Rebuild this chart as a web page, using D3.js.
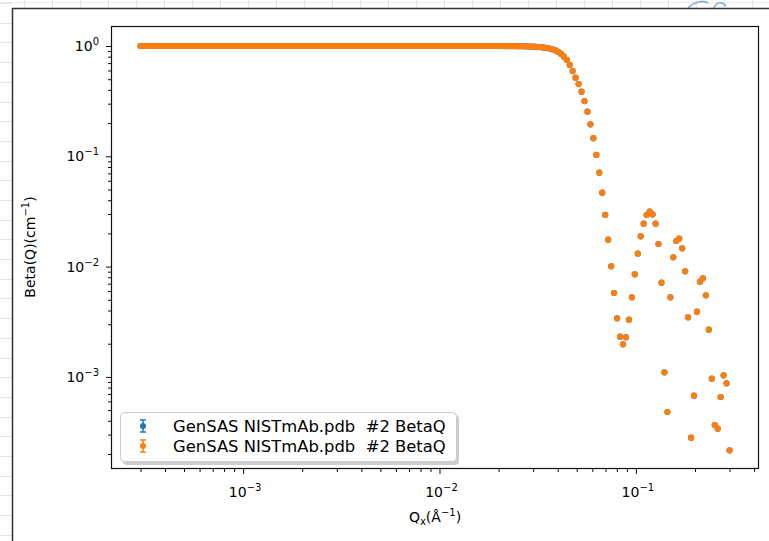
<!DOCTYPE html>
<html><head><meta charset="utf-8">
<script src="https://cdn.jsdelivr.net/npm/d3@7"></script>
<style>
body{margin:0;background:#fff}
svg{display:block}
text{font-family:"DejaVu Sans",sans-serif;fill:#000}
</style>
</head><body><svg id="c" width="769" height="541"></svg>
<script>
// Q values (Å^-1)
const qValues = [
3.000e-4,3.106e-4,3.216e-4,3.329e-4,3.447e-4,3.569e-4,3.695e-4,3.825e-4,3.960e-4,4.100e-4,
4.245e-4,4.395e-4,4.550e-4,4.711e-4,4.878e-4,5.050e-4,5.228e-4,5.413e-4,5.604e-4,5.802e-4,
6.007e-4,6.219e-4,6.439e-4,6.667e-4,6.902e-4,7.146e-4,7.398e-4,7.660e-4,7.930e-4,8.211e-4,
8.501e-4,8.801e-4,9.112e-4,9.434e-4,9.767e-4,1.011e-3,1.047e-3,1.084e-3,1.122e-3,1.162e-3,
1.203e-3,1.245e-3,1.289e-3,1.335e-3,1.382e-3,1.431e-3,1.481e-3,1.534e-3,1.588e-3,1.644e-3,
1.702e-3,1.762e-3,1.825e-3,1.889e-3,1.956e-3,2.025e-3,2.096e-3,2.170e-3,2.247e-3,2.327e-3,
2.408e-3,2.493e-3,2.581e-3,2.672e-3,2.767e-3,2.864e-3,2.966e-3,3.070e-3,3.179e-3,3.291e-3,
3.407e-3,3.528e-3,3.652e-3,3.781e-3,3.915e-3,4.053e-3,4.196e-3,4.345e-3,4.498e-3,4.657e-3,
4.821e-3,4.991e-3,5.168e-3,5.350e-3,5.539e-3,5.735e-3,5.938e-3,6.147e-3,6.365e-3,6.589e-3,
6.822e-3,7.063e-3,7.313e-3,7.571e-3,7.839e-3,8.115e-3,8.402e-3,8.699e-3,9.006e-3,9.324e-3,
9.653e-3,9.994e-3,1.035e-2,1.071e-2,1.109e-2,1.148e-2,1.189e-2,1.231e-2,1.274e-2,1.319e-2,
1.366e-2,1.414e-2,1.464e-2,1.516e-2,1.569e-2,1.625e-2,1.682e-2,1.742e-2,1.803e-2,1.867e-2,
1.933e-2,2.001e-2,2.072e-2,2.145e-2,2.221e-2,2.299e-2,2.380e-2,2.465e-2,2.552e-2,2.642e-2,
2.735e-2,2.831e-2,2.931e-2,3.035e-2,3.142e-2,3.253e-2,3.368e-2,3.487e-2,3.610e-2,3.738e-2,
3.870e-2,4.007e-2,4.148e-2,4.295e-2,4.446e-2,4.603e-2,4.766e-2,4.934e-2,5.109e-2,5.289e-2,
5.476e-2,5.669e-2,5.870e-2,6.077e-2,6.292e-2,6.514e-2,6.744e-2,6.982e-2,7.229e-2,7.484e-2,
7.749e-2,8.023e-2,8.306e-2,8.599e-2,8.903e-2,9.218e-2,9.543e-2,9.880e-2,1.023e-1,1.059e-1,
1.096e-1,1.135e-1,1.175e-1,1.217e-1,1.260e-1,1.304e-1,1.350e-1,1.398e-1,1.448e-1,1.499e-1,
1.551e-1,1.606e-1,1.663e-1,1.722e-1,1.782e-1,1.845e-1,1.911e-1,1.978e-1,2.048e-1,2.120e-1,
2.195e-1,2.273e-1,2.353e-1,2.436e-1,2.522e-1,2.611e-1,2.703e-1,2.799e-1,2.898e-1,3.000e-1
];
// Beta(Q) values (cm^-1)
const betaValues = [
1.000,1.000,1.000,1.000,1.000,1.000,1.000,1.000,1.000,1.000,
1.000,1.000,1.000,1.000,1.000,1.000,1.000,1.000,1.000,1.000,
1.000,1.000,1.000,1.000,1.000,1.000,1.000,1.000,1.000,1.000,
1.000,1.000,1.000,1.000,1.000,1.000,1.000,1.000,1.000,1.000,
1.000,1.000,1.000,1.000,1.000,1.000,1.000,1.000,1.000,1.000,
1.000,1.000,1.000,1.000,1.000,1.000,1.000,1.000,1.000,1.000,
1.000,1.000,1.000,1.000,1.000,1.000,1.000,1.000,1.000,1.000,
1.000,1.000,1.000,1.000,1.000,1.000,1.000,1.000,1.000,1.000,
1.000,1.000,1.000,1.000,1.000,1.000,1.000,1.000,1.000,1.000,
1.000,1.000,1.000,1.000,1.000,1.000,1.000,1.000,1.000,1.000,
1.000,1.000,1.000,1.000,1.000,1.000,1.000,1.000,1.000,1.000,
1.000,1.000,1.000,1.000,1.000,1.000,1.000,1.000,1.000,1.000,
1.000,1.000,1.000,0.999,0.999,0.998,0.998,0.997,0.996,0.995,
0.994,0.992,0.989,0.986,0.982,0.977,0.971,0.963,0.952,0.937,
0.917,0.889,0.852,0.805,0.747,0.673,0.593,0.516,0.452,0.385,
0.317,0.254,0.195,0.146,0.103,0.0710,0.0468,0.0294,0.01754,0.01006,
0.005764,0.003399,0.002314,0.001975,0.002286,0.003300,0.005267,0.008515,0.01309,0.01883,
0.02448,0.02936,0.03146,0.02980,0.02448,0.01602,0.007145,0.001101,0.0004806,0.005267,
0.01215,0.01706,0.01791,0.01465,0.009066,0.003470,0.0002811,0.0006756,0.003902,0.007295,
0.007831,0.005494,0.002678,0.0009632,0.0003663,0.0003392,0.0006574,0.001034,0.0008750,0.0002161
];
const seriesNames = ["GenSAS NISTmAb.pdb  #2 BetaQ", "GenSAS NISTmAb.pdb  #2 BetaQ"];
const seriesColors = ["#1f77b4", "#ff7f0e"];
const xMajorExps = [-3, -2, -1];
const yMajorExps = [0, -1, -2, -3];
const xLabelText = "Q";
const yLabelText = "Beta(Q)(cm";

const svg = d3.select("#c");
const W = 769, H = 541;
const m = {left: 111, right: 759, top: 26, bottom: 469};

// background (window decoration)
const bg = svg.append("g");
for (let y = 3; y < H; y += 19.7) {
  bg.append("line").attr("x1", 0).attr("x2", 12).attr("y1", Math.round(y)+0.5).attr("y2", Math.round(y)+0.5)
    .attr("stroke", "#e4e4e4").attr("stroke-width", 1);
}
for (let x = 24; x < W; x += 28) {
  bg.append("line").attr("x1", Math.round(x)+0.5).attr("x2", Math.round(x)+0.5).attr("y1", 0).attr("y2", 8)
    .attr("stroke", "#e4e4e4").attr("stroke-width", 1);
}
bg.append("line").attr("x1", 0).attr("x2", W).attr("y1", 2.5).attr("y2", 2.5).attr("stroke", "#ececec");
bg.append("path").attr("d", "M688,8 C694,2 702,0 708,3 M714,8 C716,2 722,1 726,6")
  .attr("fill", "none").attr("stroke", "#7fa4e6").attr("stroke-width", 1.5);
bg.append("line").attr("x1", 12.5).attr("x2", 12.5).attr("y1", 8).attr("y2", H).attr("stroke", "#333").attr("stroke-width", 1.5);
bg.append("line").attr("x1", 12).attr("x2", W).attr("y1", 8.5).attr("y2", 8.5).attr("stroke", "#333").attr("stroke-width", 1.5);

const x = d3.scaleLog().domain([Math.pow(10, -3.6729), Math.pow(10, -0.3729)]).range([m.left, m.right]);
const y = d3.scaleLog().domain([Math.pow(10, -3.835), Math.pow(10, 0.1813)]).range([m.bottom, m.top]);

// frame
svg.append("rect").attr("x", m.left + 0.5).attr("y", m.top + 0.5)
  .attr("width", m.right - m.left - 1).attr("height", m.bottom - m.top - 1)
  .attr("fill", "none").attr("stroke", "#111").attr("stroke-width", 1.2);

function isMajor(v) { const l = Math.log10(v); return Math.abs(l - Math.round(l)) < 1e-6; }
const xAll = x.ticks(), yAll = y.ticks();
const xMinor = xAll.filter(v => !isMajor(v));
const yMinor = yAll.filter(v => !isMajor(v));
const xMajor = xMajorExps.map(e => Math.pow(10, e));
const yMajor = yMajorExps.map(e => Math.pow(10, e));

const gx = svg.append("g").attr("transform", `translate(0,${m.bottom})`);
gx.call(d3.axisBottom(x).tickValues(xMinor).tickSize(3).tickFormat(""));
const gx2 = svg.append("g").attr("transform", `translate(0,${m.bottom})`);
gx2.call(d3.axisBottom(x).tickValues(xMajor).tickSize(5).tickFormat(""));
const gy = svg.append("g").attr("transform", `translate(${m.left},0)`);
gy.call(d3.axisLeft(y).tickValues(yMinor).tickSize(3).tickFormat(""));
const gy2 = svg.append("g").attr("transform", `translate(${m.left},0)`);
gy2.call(d3.axisLeft(y).tickValues(yMajor).tickSize(5).tickFormat(""));
svg.selectAll(".domain").remove();
svg.selectAll(".tick line").attr("stroke", "#111").attr("stroke-width", 1);

// tick labels with superscripts
function powLabel(g, e, anchor) {
  const t = g.append("text").attr("text-anchor", anchor).style("font-size", "14px");
  t.append("tspan").text("10");
  t.append("tspan").attr("dy", -6).style("font-size", "10px").text(e === 0 ? "0" : "\u2212" + Math.abs(e));
  return t;
}
xMajorExps.forEach(e => {
  powLabel(svg, e, "middle").attr("x", x(Math.pow(10, e)) + 2).attr("y", 497);
});
yMajorExps.forEach(e => {
  powLabel(svg, e, "end").attr("x", 99).attr("y", y(Math.pow(10, e)) + 5);
});

// axis labels
const xl = svg.append("text").attr("x", 435).attr("y", 522).attr("text-anchor", "middle").style("font-size", "14px");
xl.append("tspan").text(xLabelText);
xl.append("tspan").attr("dy", 3).style("font-size", "10px").text("x");
xl.append("tspan").attr("dy", -3).text("(\u00C5");
xl.append("tspan").attr("dy", -6).style("font-size", "10px").text("\u22121");
xl.append("tspan").attr("dy", 6).text(")");

const yl = svg.append("text").attr("transform", "translate(35,247) rotate(-90)").attr("text-anchor", "middle").style("font-size", "14px");
yl.append("tspan").text(yLabelText);
yl.append("tspan").attr("dy", -6).style("font-size", "10px").text("\u22121");
yl.append("tspan").attr("dy", 6).text(")");

// data (both series identical; orange drawn on top)
const data = qValues.map((q, i) => ({q, b: betaValues[i]}));
const plot = svg.append("g");
seriesColors.forEach(col => {
  plot.append("g").selectAll("circle").data(data).join("circle")
    .attr("cx", d => x(d.q)).attr("cy", d => y(d.b)).attr("r", 3.1).attr("fill", col);
});

// legend
const lg = svg.append("g");
lg.append("rect").attr("x", 123).attr("y", 415).attr("width", 336).attr("height", 50).attr("rx", 4)
  .attr("fill", "#aaa").attr("opacity", 0.6);
lg.append("rect").attr("x", 120.5).attr("y", 412.5).attr("width", 336).attr("height", 49).attr("rx", 4)
  .attr("fill", "#fff").attr("stroke", "#ccc").attr("stroke-width", 1);
seriesNames.forEach((name, i) => {
  const cy = 426 + i * 20;
  const col = seriesColors[i];
  const gi = lg.append("g");
  gi.append("line").attr("x1", 143).attr("x2", 143).attr("y1", cy - 6).attr("y2", cy + 6).attr("stroke", col).attr("stroke-width", 1.5);
  gi.append("line").attr("x1", 140).attr("x2", 146).attr("y1", cy - 6).attr("y2", cy - 6).attr("stroke", col).attr("stroke-width", 1.5);
  gi.append("line").attr("x1", 140).attr("x2", 146).attr("y1", cy + 6).attr("y2", cy + 6).attr("stroke", col).attr("stroke-width", 1.5);
  gi.append("circle").attr("cx", 143).attr("cy", cy).attr("r", 3).attr("fill", col);
  gi.append("text").attr("x", 173).attr("y", cy + 5.5).style("font-size", "16.4px").style("white-space", "pre").text(name);
});
</script></body></html>
